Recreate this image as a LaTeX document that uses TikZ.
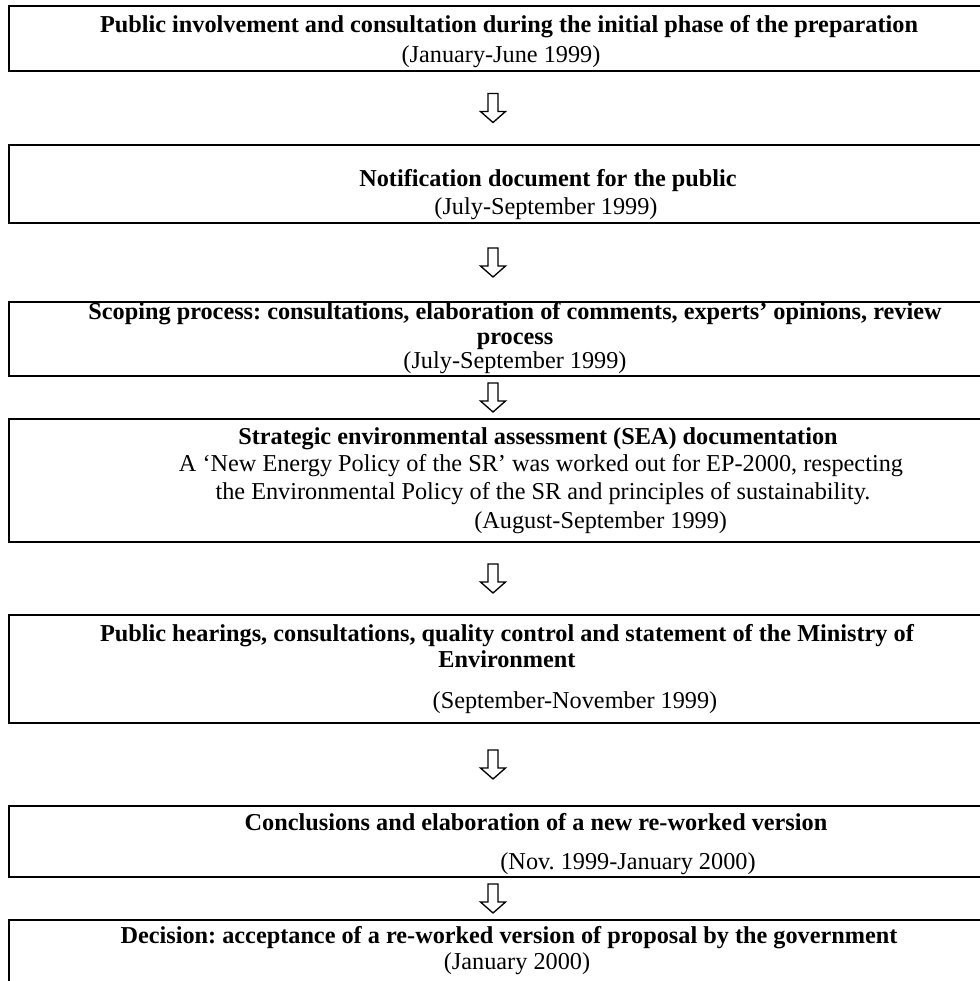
\documentclass[tikz,border=0pt]{standalone}
\usepackage{fontspec}
\setmainfont{Liberation Serif}
\usetikzlibrary{fit,calc}
\frenchspacing
\begin{document}
\begin{tikzpicture}[x=0.75pt,y=-0.75pt,
  box/.style={draw=black, line width=1.5pt, inner sep=0pt, rectangle},
  txt/.style={anchor=base, inner sep=0pt, font=\fontsize{18.2pt}{21pt}\selectfont},
  bold/.style={txt, font=\fontsize{18.2pt}{21pt}\selectfont\bfseries},
  downarr/.pic={\draw[line width=1pt, fill=white, line join=miter]
     (-5,-14.5) -- (5,-14.5) -- (5,3.5) -- (12.5,3.5) -- (0,14.5) -- (-12.5,3.5) -- (-5,3.5) -- cycle;}]
\useasboundingbox (0,0) rectangle (980,981);
\clip (0,0) rectangle (980,981);
% boxes
\node[box, fit={(9,6)(1005,71)}] (b1) {};
\node[box, fit={(9,145)(1005,223)}] (b2) {};
\node[box, fit={(9,302)(1005,376)}] (b3) {};
\node[box, fit={(9,419)(1005,542)}] (b4) {};
\node[box, fit={(9,615)(1005,723)}] (b5) {};
\node[box, fit={(9,806)(1005,877)}] (b6) {};
\node[box, fit={(9,920)(1005,1010)}] (b7) {};
% arrows
\pic at ($(b1.south)!0.5!(b2.north)+(-14,0)$) {downarr};
\pic at ($(b2.south)!0.5!(b3.north)+(-14,0)$) {downarr};
\pic at ($(b3.south)!0.5!(b4.north)+(-14,0)$) {downarr};
\pic at ($(b4.south)!0.5!(b5.north)+(-14,0)$) {downarr};
\pic at ($(b5.south)!0.5!(b6.north)+(-14,0)$) {downarr};
\pic at ($(b6.south)!0.5!(b7.north)+(-14,0)$) {downarr};
% texts
\node[bold] (t1a) at (509,33) {Public involvement and consultation during the initial phase of the preparation};
\node[txt] (t1b) at (501,63) {(January-June 1999)};
\node[bold] (t2a) at (548,186) {Notification document for the public};
\node[txt] (t2b) at (546,214) {(July-September 1999)};
\node[bold] (t3a) at (515,319) {Scoping process: consultations, elaboration of comments, experts’ opinions, review};
\node[bold] (t3b) at (515,344) {process};
\node[txt] (t3c) at (515,368) {(July-September 1999)};
\node[bold] (t4a) at (538,444) {Strategic environmental assessment (SEA) documentation};
\node[txt] (t4b) at (541,471) {A ‘New Energy Policy of the SR’ was worked out for EP-2000, respecting};
\node[txt] (t4c) at (543,499) {the Environmental Policy of the SR and principles of sustainability.};
\node[txt, anchor=base west] (t4d) at (474,528) {(August-September 1999)};
\node[bold] (t5a) at (507,641) {Public hearings, consultations, quality control and statement of the Ministry of};
\node[bold] (t5b) at (507,667) {Environment};
\node[txt] (t5c) at (575,708) {(September-November 1999)};
\node[bold] (t6a) at (536,830) {Conclusions and elaboration of a new re-worked version};
\node[txt] (t6b) at (628,869) {(Nov. 1999-January 2000)};
\node[bold] (t7a) at (509,943) {Decision: acceptance of a re-worked version of proposal by the government};
\node[txt] (t7b) at (517,969) {(January 2000)};
\end{tikzpicture}
\end{document}
